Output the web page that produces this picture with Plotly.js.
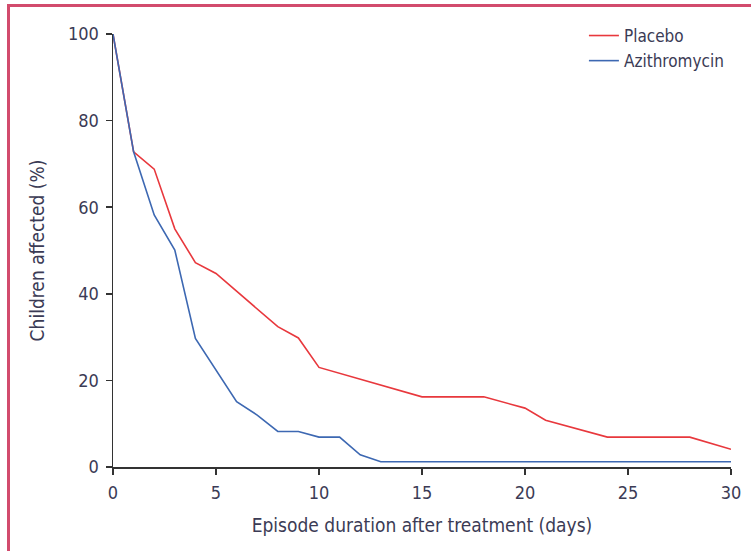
<!DOCTYPE html>
<html>
<head>
<meta charset="utf-8">
<script src="https://cdn.plot.ly/plotly-3.0.1.min.js"></script>
<style>
html,body{margin:0;padding:0;background:#fff;}
#wrap{position:relative;width:751px;height:551px;}
#chart{position:absolute;left:0;top:0;width:751px;height:551px;}
#frame{position:absolute;left:7px;top:4px;width:760px;height:560px;border-top:3px solid #d24b6d;border-left:3px solid #d24b6d;pointer-events:none;box-sizing:border-box;}
</style>
</head>
<body>
<div id="wrap"><div id="chart"></div><div id="frame"></div></div>
<script>
const placeboDays = [0, 1, 2, 3, 4, 5, 8, 9, 10, 15, 18, 20, 21, 24, 28, 30];
const placeboPct  = [100, 72.8, 68.8, 55, 47.2, 44.7, 32.4, 29.8, 23, 16.2, 16.2, 13.6, 10.8, 6.9, 6.9, 4.1];
const aziDays = [0, 1, 2, 3, 4, 5, 6, 7, 8, 9, 10, 11, 12, 13, 30];
const aziPct  = [100, 72.8, 58.2, 50.1, 29.7, 22.4, 15.1, 12, 8.2, 8.2, 6.9, 6.9, 2.8, 1.2, 1.2];
const xTicks = [0, 5, 10, 15, 20, 25, 30];
const yTicks = [0, 20, 40, 60, 80, 100];

const font = "'Liberation Sans Narrow', 'DejaVu Sans Condensed', 'Liberation Sans', sans-serif";
const txt = '#3b3b55';

const traces = [
  {x: placeboDays, y: placeboPct, type: 'scatter', mode: 'lines', name: 'Placebo',
   line: {color: '#e8383d', width: 1.6}},
  {x: aziDays, y: aziPct, type: 'scatter', mode: 'lines', name: 'Azithromycin',
   line: {color: '#3d68b2', width: 1.6}}
];

const axisCommon = {
  showgrid: false, zeroline: false, showline: true, linecolor: '#333', linewidth: 1.5,
  ticks: 'outside', ticklen: 6, tickwidth: 1.5, tickcolor: '#333',
  tickfont: {family: font, size: 18, color: txt}
};

const layout = {
  width: 751, height: 551,
  margin: {l: 113, r: 20, t: 34, b: 84},
  paper_bgcolor: '#fff', plot_bgcolor: '#fff',
  font: {family: font, color: txt},
  showlegend: true,
  legend: {x: 0.762, y: 1.037, xanchor: 'left', yanchor: 'top', bgcolor: 'rgba(0,0,0,0)',
           font: {family: font, size: 17, color: txt}, tracegroupgap: 0, itemwidth: 30},
  xaxis: Object.assign({}, axisCommon, {range: [0, 30], tickvals: xTicks, ticktext: xTicks.map(String),
    ticklabelstandoff: 3,
    title: {text: 'Episode duration after treatment (days)', font: {family: font, size: 19, color: txt}, standoff: 16}}),
  yaxis: Object.assign({}, axisCommon, {range: [0, 100], tickvals: yTicks, ticktext: yTicks.map(String),
    ticklabelstandoff: 3,
    title: {text: 'Children affected (%)', font: {family: font, size: 19, color: txt}, standoff: 18}})
};

Plotly.newPlot('chart', traces, layout, {displayModeBar: false, staticPlot: true});
</script>
</body>
</html>
